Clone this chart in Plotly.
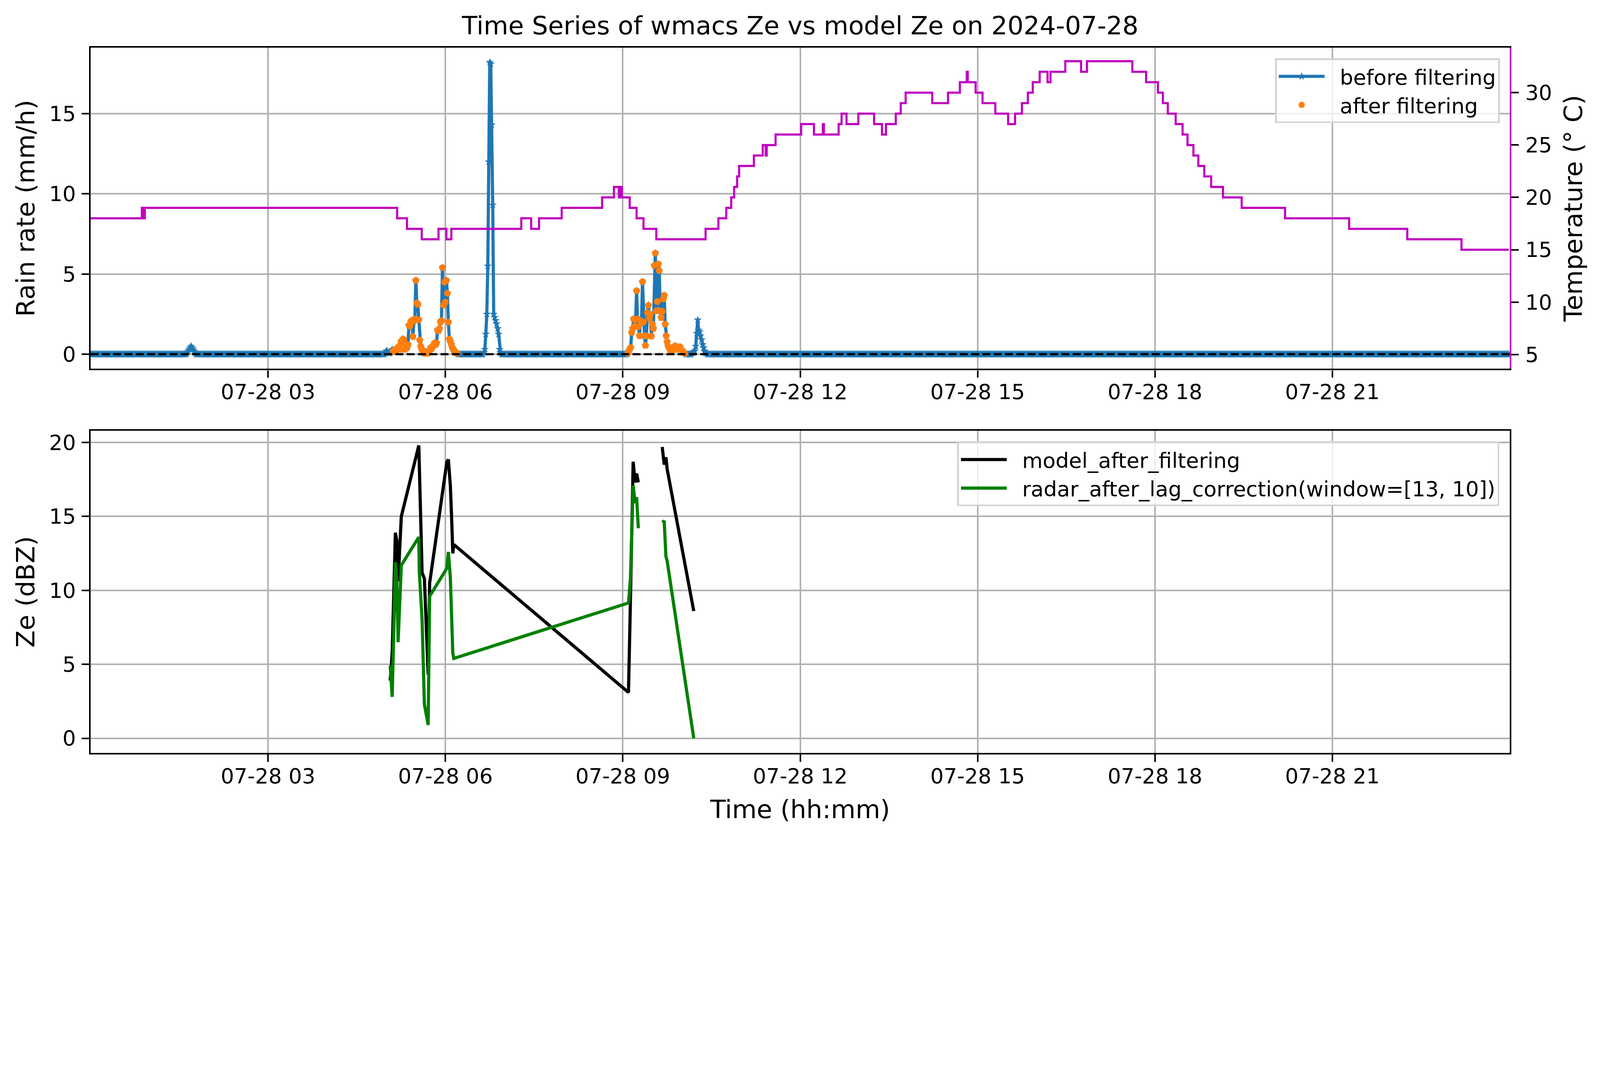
import numpy as np
import pandas as pd
import plotly.graph_objects as go
from plotly.subplots import make_subplots

day = "2024-07-28"
n_minutes = 1440

# rain rate (mm/h), one value per minute, zero outside the stretches below
rain_ev_start = ["01:38", "04:59", "06:39", "09:05"]
rain_ev1 = [0.1, 0.2, 0.3, 0.4, 0.5, 0.4, 0.3, 0.2, 0.1]
rain_ev2 = [0.1, 0.2, 0.2, 0.1, 0.05, 0.1, 0.2, 0.3, 0.2, 0.15,
            0.3, 0.2, 0.35, 0.3, 0.5, 0.3, 0.8, 0.7, 0.95, 0.9,
            0.3, 0.45, 0.4, 0.6, 1.8, 1.75, 2.05, 2.1, 1.1, 2.05,
            2.2, 4.6, 3.2, 3.1, 2.15, 0.88, 0.49, 0.3, 0.2, 0.1,
            0.05, 0.15, 0.1, 0.05, 0.15, 0.2, 0.4, 0.35, 0.5, 0.55,
            0.7, 0.6, 0.7, 1.5, 1.45, 1.6, 2.0, 2.1, 5.4, 3.05,
            4.5, 3.25, 4.6, 3.8, 2.0, 0.95, 0.8, 0.6, 0.4, 0.3,
            0.2, 0.15, 0.1, 0.05]
rain_ev3 = [0.1, 0.3, 1.25, 2.5, 5.5, 12.0, 18.2, 18.1, 14.3, 9.3,
            2.5, 2.3, 2.1, 1.9, 1.6, 1.25, 0.3, 0.1]
rain_ev4 = [0.05, 0.17, 0.3, 0.42, 1.35, 1.6, 2.2, 1.75, 2.17, 3.96,
            2.2, 1.72, 1.15, 2.1, 2.0, 4.52, 2.0, 1.15, 0.55, 1.15,
            2.6, 3.05, 2.23, 2.48, 1.12, 1.88, 1.6, 5.53, 6.3, 2.7,
            3.28, 5.62, 5.21, 2.7, 2.28, 2.67, 3.44, 3.67, 1.88, 1.15,
            0.77, 0.5, 0.39, 0.3, 0.15, 0.2, 0.35, 0.45, 0.52, 0.4,
            0.3, 0.45, 0.35, 0.46, 0.3, 0.25, 0.15, 0.1, 0.05, 0.0,
            0.0, 0.0, 0.0, 0.0, 0.0, 0.05, 0.1, 0.15, 0.2, 0.5,
            1.3, 2.14, 1.5, 1.4, 1.15, 0.9, 0.6, 0.4, 0.2, 0.1, 0.05]

# periods kept by the filter
filter_from = ["05:07", "09:05"]
filter_to = ["06:12", "10:03"]

# temperature (deg C), value holds until the next change
temp_times = ["00:00", "00:52", "00:54", "00:55", "05:11", "05:21", "05:36", "05:53",
              "06:01", "06:06", "07:17", "07:27", "07:35", "07:58", "08:39", "08:51",
              "08:56", "08:57", "08:59", "09:07", "09:14", "09:21", "09:34", "10:24",
              "10:37", "10:45", "10:50", "10:53", "10:56", "10:58", "11:13", "11:22",
              "11:25", "11:26", "11:35", "12:01", "12:14", "12:23", "12:24", "12:39",
              "12:42", "12:47", "12:59", "13:15", "13:23", "13:27", "13:37", "13:42",
              "13:47", "14:14", "14:30", "14:42", "14:49", "14:50", "14:58", "15:05",
              "15:18", "15:31", "15:38", "15:45", "15:51", "15:56", "16:03", "16:11",
              "16:14", "16:29", "16:45", "16:51", "17:37", "17:51", "18:03", "18:08",
              "18:13", "18:21", "18:28", "18:33", "18:39", "18:44", "18:50", "18:57",
              "19:09", "19:28", "20:12", "21:17", "22:16", "23:11", "23:59"]
temp_vals = [18, 19, 18, 19, 18, 17, 16, 17,
             16, 17, 18, 17, 18, 19, 20, 21,
             20, 21, 20, 19, 18, 17, 16, 17,
             18, 19, 20, 21, 22, 23, 24, 25,
             24, 25, 26, 27, 26, 27, 26, 27,
             28, 27, 28, 27, 26, 27, 28, 29,
             30, 29, 30, 31, 32, 31, 30, 29,
             28, 27, 28, 29, 30, 31, 32, 31,
             32, 33, 32, 33, 32, 31, 30, 29,
             28, 27, 26, 25, 24, 23, 22, 21,
             20, 19, 18, 17, 16, 15, 15]

# Ze (dBZ) after filtering; None marks a break in the record
ze_times = ["05:04:00", "05:06:00", "05:09:15", "05:10:45", "05:12:00", "05:15:15",
            "05:33:00", "05:33:30", "05:36:20", "05:38:40", "05:42:30", "05:44:00",
            "06:01:30", "06:03:00", "06:05:00", "06:06:15", "06:07:30", "06:08:30",
            "09:05:45", "09:07:45", "09:10:30", "09:12:30", "09:14:00", "09:15:45",
            "09:20:00",
            "09:40:00", "09:42:00", "09:43:45", "09:45:00", "10:12:00"]
ze_model = [3.9, 5.8, 13.9, 13.3, 10.6, 15.0,
            19.8, 18.5, 11.2, 10.8, 4.3, 10.5,
            18.7, 18.85, 17.1, 15.0, 12.5, 13.1,
            3.1, 9.3, 18.7, 17.3, 17.9, 17.3,
            None,
            19.7, 18.5, 19.0, 18.2, 8.6]
ze_radar = [4.9, 2.8, 11.9, 10.6, 6.5, 11.7,
            13.6, 11.3, 8.0, 2.3, 0.9, 9.6,
            11.5, 12.6, 10.9, 8.6, 5.75, 5.4,
            9.15, 10.8, 17.1, 15.9, 16.3, 14.2,
            None,
            14.6, 14.7, 12.3, 12.0, 0.0]

tick_hours = [3, 6, 9, 12, 15, 18, 21]


def at(hhmm):
    return pd.Timestamp(day + " " + hhmm)


t0 = pd.Timestamp(day)
times = pd.date_range(t0, periods=n_minutes, freq="min")
rain = np.zeros(n_minutes)
for start, vals in zip(rain_ev_start, [rain_ev1, rain_ev2, rain_ev3, rain_ev4]):
    i0 = int((at(start) - t0).total_seconds() // 60)
    rain[i0:i0 + len(vals)] = vals

keep = np.zeros(n_minutes, dtype=bool)
for a, b in zip(filter_from, filter_to):
    keep |= (times >= at(a)) & (times <= at(b))
keep &= rain > 0

temp_x = [at(s) for s in temp_times]
ze_x = [at(s) for s in ze_times]
tickvals = [t0 + pd.Timedelta(hours=h) for h in tick_hours]

# the page is 4096 css px wide and photographed at 5241 px
S = 5241 / 4096


def px(v):
    return v / S


FONT = "DejaVu Sans"
LW = px(5.6)      # 0.8 pt spines / grid
TICK = px(69)
LABEL = px(83)
NB = "\u00a0\u00a0"

fig = make_subplots(rows=2, cols=1, specs=[[{"secondary_y": True}], [{}]])

fig.add_trace(go.Scatter(x=times, y=rain, mode="lines+markers", name=NB + "before filtering",
                         line=dict(color="#1f77b4", width=px(10.4)),
                         marker=dict(symbol="star", size=px(20), color="#1f77b4", line=dict(width=0))),
              row=1, col=1, secondary_y=False)
fig.add_trace(go.Scatter(x=times[keep], y=rain[keep], mode="markers", name=NB + "after filtering",
                         marker=dict(symbol="circle", size=px(22), color="#ff7f0e", line=dict(width=0))),
              row=1, col=1, secondary_y=False)
fig.add_trace(go.Scatter(x=temp_x, y=temp_vals, mode="lines", line_shape="hv",
                         line=dict(color="#bf00bf", width=px(7)), showlegend=False),
              row=1, col=1, secondary_y=True)

fig.add_trace(go.Scatter(x=ze_x, y=ze_model, mode="lines", name=NB + "model_after_filtering",
                         line=dict(color="black", width=px(10.4)), legend="legend2"),
              row=2, col=1)
fig.add_trace(go.Scatter(x=ze_x, y=ze_radar, mode="lines",
                         name=NB + "radar_after_lag_correction(window=[13, 10])",
                         line=dict(color="#008000", width=px(10.4)), legend="legend2"),
              row=2, col=1)

# dashed zero line on the rain panel
fig.add_shape(type="line", xref="x domain", yref="y", x0=0, x1=1, y0=0, y1=0,
              line=dict(color="black", width=px(7), dash="%.1fpx,%.1fpx" % (px(26), px(11))),
              layer="above")

fig.update_xaxes(type="date", range=[t0, t0 + pd.Timedelta(hours=24)],
                 tickvals=tickvals, tickformat="%m-%d %H",
                 showline=True, linecolor="black", linewidth=LW, mirror=True,
                 ticks="outside", ticklen=px(24), tickwidth=LW, tickcolor="black",
                 showgrid=True, gridcolor="#b0b0b0", gridwidth=LW,
                 tickfont=dict(size=TICK, color="black"), ticklabelstandoff=-10,
                 zeroline=False, domain=[0, 1])
fig.update_xaxes(title=dict(text="Time (hh:mm)", font=dict(size=LABEL, color="black"),
                            standoff=33), row=2, col=1)

yaxis_style = dict(showline=True, linecolor="black", linewidth=LW,
                   ticks="outside", ticklen=px(24), tickwidth=LW, tickcolor="black",
                   showgrid=True, gridcolor="#b0b0b0", gridwidth=LW,
                   tickfont=dict(size=TICK, color="black"), ticklabelstandoff=4,
                   zeroline=False)

legend_style = dict(xanchor="right", yanchor="top",
                    bgcolor="rgba(255,255,255,0.8)", bordercolor="#d4d4d4", borderwidth=px(6),
                    font=dict(size=TICK, color="black"), itemwidth=px(150))

fig.update_layout(
    width=4096, height=int(2740 / S),
    font=dict(family=FONT, color="black"),
    paper_bgcolor="white", plot_bgcolor="white",
    margin=dict(l=px(297), r=px(295), t=px(156), b=px(272)),
    title=dict(text="Time Series of wmacs Ze vs model Ze on 2024-07-28",
               font=dict(size=LABEL, color="black"),
               x=0.5, xref="paper", xanchor="center",
               y=1 - 84 / 2740, yref="container", yanchor="middle"),
    yaxis=dict(**yaxis_style, domain=[0.5446, 1.0], range=[-0.91, 19.11],
               tickvals=[0, 5, 10, 15], mirror=False,
               title=dict(text="Rain rate (mm/h)", font=dict(size=LABEL), standoff=17)),
    yaxis2=dict(showline=True, linecolor="#bf00bf", linewidth=LW,
                ticks="outside", ticklen=px(24), tickwidth=LW, tickcolor="black",
                showgrid=False, zeroline=False, range=[3.63, 34.3],
                tickvals=[5, 10, 15, 20, 25, 30],
                tickfont=dict(size=TICK, color="black"), ticklabelstandoff=6,
                title=dict(text="Temperature (° C)", font=dict(size=LABEL), standoff=33)),
    yaxis3=dict(**yaxis_style, domain=[0.0, 0.4567], range=[-0.99, 20.79],
                tickvals=[0, 5, 10, 15, 20], mirror=True,
                title=dict(text="Ze (dBZ)", font=dict(size=LABEL), standoff=17)),
    legend=dict(x=0.9931, y=0.9849, **legend_style),
    legend2=dict(x=0.9927, y=0.4416, **legend_style),
)

fig.write_html("out.html", config={"displayModeBar": False},
               post_script="document.body.style.margin='0px';")
